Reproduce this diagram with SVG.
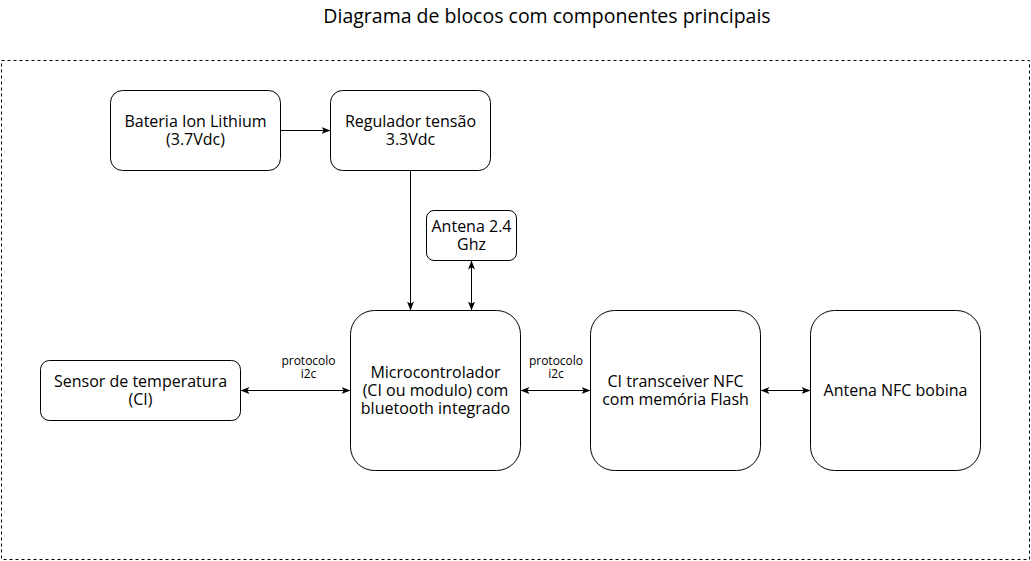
<svg xmlns="http://www.w3.org/2000/svg" width="1031" height="561" viewBox="0 0 1031 561">
<style>
.n{fill:#fff;stroke:#000;stroke-width:1}
.t{font-family:"Open Sans","Noto Sans","DejaVu Sans",sans-serif;font-size:16px;fill:#000;text-anchor:middle}
.s{font-family:"Open Sans","Noto Sans","DejaVu Sans",sans-serif;font-size:12px;fill:#000;text-anchor:middle}
.e{fill:none;stroke:#000;stroke-width:1}
</style>
<defs>
<marker id="a" markerUnits="userSpaceOnUse" markerWidth="10" markerHeight="8" refX="9" refY="3.5" orient="auto-start-reverse" viewBox="0 0 10 8">
<path d="M0,0 L9,3.5 L0,7 L2.2,3.5 Z" fill="#000"/>
</marker>
</defs>
<rect width="1031" height="561" fill="#fff"/>
<text class="t" x="547" y="23" style="font-size:19.5px">Diagrama de blocos com componentes principais</text>
<rect x="1.5" y="60.5" width="1028" height="499" fill="none" stroke="#000" stroke-dasharray="3 3"/>
<g id="connectors">
<path class="e" d="M280.5,130.5 H330.5" marker-end="url(#a)"/>
<path class="e" d="M410.5,170.5 V310.5" marker-end="url(#a)"/>
<path class="e" d="M471.5,260.5 V310.5" marker-start="url(#a)" marker-end="url(#a)"/>
<path class="e" d="M240.5,390.5 H350.5" marker-start="url(#a)" marker-end="url(#a)"/>
<path class="e" d="M520.5,390.5 H590.5" marker-start="url(#a)" marker-end="url(#a)"/>
<path class="e" d="M760.5,390.5 H810.5" marker-start="url(#a)" marker-end="url(#a)"/>
<text class="s" x="308.5" y="365">protocolo<tspan x="308.5" dy="13">i2c</tspan></text>
<text class="s" x="556" y="365">protocolo<tspan x="556" dy="13">i2c</tspan></text>
</g>
<g id="bateria">
<rect class="n" x="110.5" y="90.5" width="170" height="80" rx="12"/>
<text class="t" x="195.5" y="126.5">Bateria Ion Lithium<tspan x="195.5" dy="18">(3.7Vdc)</tspan></text>
</g>
<g id="regulador">
<rect class="n" x="330.5" y="90.5" width="160" height="80" rx="12"/>
<text class="t" x="410.5" y="126.5">Regulador tensão<tspan x="410.5" dy="18">3.3Vdc</tspan></text>
</g>
<g id="antena24">
<rect class="n" x="426.5" y="210.5" width="90" height="50" rx="7.5"/>
<text class="t" x="471.5" y="232">Antena 2.4<tspan x="471.5" dy="18">Ghz</tspan></text>
</g>
<g id="sensor">
<rect class="n" x="40.5" y="360.5" width="200" height="60" rx="9"/>
<text class="t" x="140.5" y="387">Sensor de temperatura<tspan x="140.5" dy="18">(CI)</tspan></text>
</g>
<g id="micro">
<rect class="n" x="350.5" y="310.5" width="170" height="160" rx="24"/>
<text class="t" x="435.5" y="378">Microcontrolador<tspan x="435.5" dy="18">(CI ou modulo) com</tspan><tspan x="435.5" dy="18">bluetooth integrado</tspan></text>
</g>
<g id="nfc">
<rect class="n" x="590.5" y="310.5" width="170" height="160" rx="24"/>
<text class="t" x="675.5" y="387">CI transceiver NFC<tspan x="675.5" dy="18">com memória Flash</tspan></text>
</g>
<g id="antenanfc">
<rect class="n" x="810.5" y="310.5" width="170" height="160" rx="24"/>
<text class="t" x="895.5" y="396">Antena NFC bobina</text>
</g>
</svg>
